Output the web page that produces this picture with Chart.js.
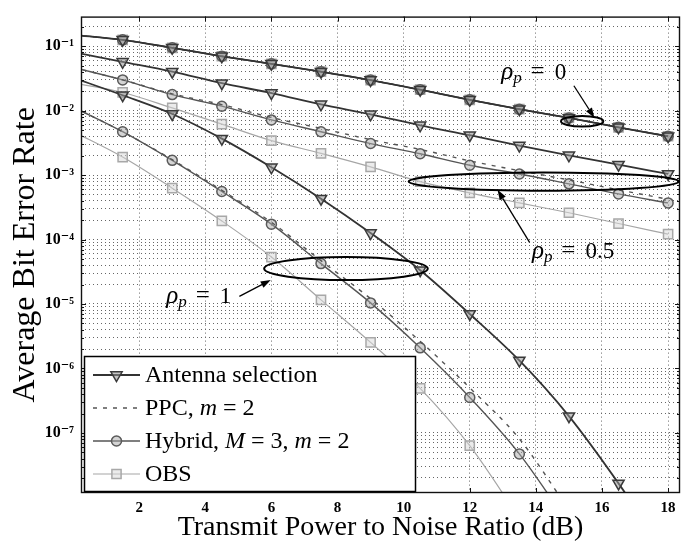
<!DOCTYPE html>
<html><head><meta charset="utf-8">
<script src="https://cdn.jsdelivr.net/npm/chart.js@4/dist/chart.umd.min.js"></script>
<style>html,body{margin:0;padding:0;background:#fff}</style>
</head><body>
<canvas id="c" width="688" height="547"></canvas>
<script>
// ---------------- data ----------------
const snrDb = [0, 1.5, 3, 4.5, 6, 7.5, 9, 10.5, 12, 13.5, 15, 16.5, 18];

// rho_p = 0 : all schemes coincide
const asRho0  = [0.150, 0.125, 0.0942, 0.0696, 0.0531, 0.0401, 0.0297, 0.0211, 0.0147, 0.0105, 0.0077, 0.0055, 0.0040];
const ppcRho0 = [0.150, 0.125, 0.0942, 0.0696, 0.0531, 0.0401, 0.0297, 0.0211, 0.0147, 0.0105, 0.0077, 0.0055, 0.0040];
const hybRho0 = [0.150, 0.125, 0.0942, 0.0696, 0.0531, 0.0401, 0.0297, 0.0211, 0.0147, 0.0105, 0.0077, 0.0055, 0.0040];
const obsRho0 = [0.150, 0.125, 0.0942, 0.0696, 0.0531, 0.0401, 0.0297, 0.0211, 0.0147, 0.0105, 0.0077, 0.0055, 0.0040];

// rho_p = 0.5
const asRho05  = [0.0809, 0.0570, 0.0401, 0.0266, 0.0187, 0.0125, 0.00875, 0.0059, 0.00415, 0.00287, 0.00202, 0.00145, 0.00104];
const ppcRho05 = [0.0468, 0.0299, 0.0182, 0.0124, 0.0078, 0.0053, 0.00355, 0.0025, 0.00166, 0.00117, 0.00084, 0.00059, 0.00042];
const hybRho05 = [0.0468, 0.0299, 0.0177, 0.0117, 0.00716, 0.0047, 0.00308, 0.00214, 0.00142, 0.00104, 0.00073, 0.00051, 0.00037];
const obsRho05 = [0.0269, 0.0191, 0.0110, 0.00616, 0.00342, 0.00217, 0.00134, 0.00079, 0.00053, 0.00037, 0.00026, 0.000177, 0.000121];

// rho_p = 1
const asRho1  = [0.0324, 0.0173, 0.00885, 0.00367, 0.00132, 4.3e-4, 1.26e-4, 3.34e-5, 7.0e-6, 1.33e-6, 1.82e-7, 1.65e-8, 1.2e-9];
const ppcRho1 = [0.01138, 0.0047, 0.00173, 5.8e-4, 1.85e-4, 4.7e-5, 1.21e-5, 2.63e-6, 5.0e-7, 8.1e-8, 6.4e-9, null, null];
const hybRho1 = [0.01138, 0.0047, 0.00169, 5.56e-4, 1.73e-4, 4.23e-5, 1.04e-5, 2.09e-6, 3.55e-7, 4.73e-8, 3.8e-9, null, null];
const obsRho1 = [0.00474, 0.0019, 6.26e-4, 1.94e-4, 5.35e-5, 1.16e-5, 2.54e-6, 4.92e-7, 6.34e-8, 4.76e-9, null, null, null];

const xTickValues = [2, 4, 6, 8, 10, 12, 14, 16, 18];
const xTickLabels = ['2', '4', '6', '8', '10', '12', '14', '16', '18'];
const yTickValues = [1e-7, 1e-6, 1e-5, 1e-4, 1e-3, 1e-2, 1e-1];
const yTickLabels = ['10\u207B\u2077', '10\u207B\u2076', '10\u207B\u2075', '10\u207B\u2074', '10\u207B\u00B3', '10\u207B\u00B2', '10\u207B\u00B9'];

const legendLabels = ['Antenna selection', 'PPC, m = 2', 'Hybrid, M = 3, m = 2', 'OBS'];
const xTitle = 'Transmit Power to Noise Ratio (dB)';
const yTitle = 'Average Bit Error Rate';
const rhoLabels = ['0', '0.5', '1'];

// ---------------- styles ----------------
const SERIF = "'Liberation Serif', 'DejaVu Serif', 'Times New Roman', serif";
const X_MIN = 0.24, X_MAX = 18.36, Y_MIN = 1.17e-8, Y_MAX = 0.287;

const schemeStyle = {
  as:  { borderColor: '#333333', borderWidth: 1.8, pointStyle: 'triangle', pointRotation: 180, r: 6.5,
         pointBorderColor: '#3a3a3a', pointBackgroundColor: 'rgba(150,150,150,0.55)', borderDash: [] },
  ppc: { borderColor: '#555555', borderWidth: 1.4, pointStyle: 'circle', pointRotation: 0, r: 0,
         pointBorderColor: '#555', pointBackgroundColor: 'transparent', borderDash: [4, 6] },
  hyb: { borderColor: '#555555', borderWidth: 1.4, pointStyle: 'circle', pointRotation: 0, r: 5,
         pointBorderColor: '#5a5a5a', pointBackgroundColor: 'rgba(170,170,170,0.5)', borderDash: [] },
  obs: { borderColor: '#a6a6a6', borderWidth: 1.2, pointStyle: 'rect', pointRotation: 0, r: 6.5,
         pointBorderColor: '#a8a8a8', pointBackgroundColor: 'rgba(215,215,215,0.5)', borderDash: [] }
};

function mk(label, values, key, order) {
  const s = schemeStyle[key];
  return {
    label,
    data: snrDb.map((x, i) => ({ x, y: values[i] })),
    borderColor: s.borderColor,
    borderWidth: s.borderWidth,
    borderDash: s.borderDash,
    pointStyle: s.pointStyle,
    pointRotation: s.pointRotation,
    pointRadius: ctx => (ctx.dataIndex === 0 ? 0 : s.r),
    pointHoverRadius: 0,
    pointBorderColor: s.pointBorderColor,
    pointBackgroundColor: s.pointBackgroundColor,
    pointBorderWidth: 1.5,
    cubicInterpolationMode: 'monotone',
    fill: false,
    spanGaps: false,
    order
  };
}

const datasets = [
  mk('AS rho=1', asRho1, 'as', 0),
  mk('PPC rho=1', ppcRho1, 'ppc', 1),
  mk('Hybrid rho=1', hybRho1, 'hyb', 2),
  mk('OBS rho=1', obsRho1, 'obs', 3),
  mk('AS rho=0.5', asRho05, 'as', 0),
  mk('PPC rho=0.5', ppcRho05, 'ppc', 1),
  mk('Hybrid rho=0.5', hybRho05, 'hyb', 2),
  mk('OBS rho=0.5', obsRho05, 'obs', 3),
  mk('AS rho=0', asRho0, 'as', 0),
  mk('PPC rho=0', ppcRho0, 'ppc', 4),
  mk('Hybrid rho=0', hybRho0, 'hyb', 5),
  mk('OBS rho=0', obsRho0, 'obs', 6)
];

// annotation specs in data coordinates
const ellipses = [
  { x0: 14.76, x1: 16.04, y0: 8.24e-3, y1: 5.66e-3 },
  { x0: 10.15, x1: 18.33, y0: 1.10e-3, y1: 5.70e-4 },
  { x0: 5.78,  x1: 10.73, y0: 5.35e-5, y1: 2.35e-5 }
];
const arrows = [
  { fx: 15.15, fy: 0.0243,  tx: 15.77, ty: 7.76e-3 },
  { fx: 13.81, fy: 9.06e-5, tx: 12.84, ty: 5.9e-4 },
  { fx: 5.03,  fy: 1.31e-5, tx: 5.98,  ty: 2.35e-5 }
];
const rhoTextPos = [
  { x: 12.95, y: 0.0401 },
  { x: 13.88, y: 6.75e-5 },
  { x: 2.82,  y: 1.32e-5 }
];

const yGridValues = [];
yTickValues.concat([1e-8]).forEach(d => {
  for (let k = 1; k <= 9; k++) {
    const v = d * k;
    if (v >= Y_MIN && v <= Y_MAX) yGridValues.push(+v.toPrecision(3));
  }
});
yGridValues.sort((a, b) => a - b);

function isDecade(v) { return yTickValues.some(t => Math.abs(Math.log10(t) - Math.log10(v)) < 1e-6); }

function line(ctx, x0, y0, x1, y1) { ctx.beginPath(); ctx.moveTo(x0, y0); ctx.lineTo(x1, y1); ctx.stroke(); }

const overlay = {
  id: 'overlay',
  afterDatasetsDraw(chart) {
    const { ctx, chartArea: a, scales: { x, y } } = chart;
    ctx.save();
    ctx.setLineDash([]);
    // box
    ctx.strokeStyle = '#111';
    ctx.lineWidth = 1.4;
    ctx.strokeRect(a.left + 0.5, a.top + 0.5, a.right - a.left - 1, a.bottom - a.top - 1);
    // inner tick marks
    ctx.lineWidth = 1;
    xTickValues.forEach(v => {
      const px = Math.round(x.getPixelForValue(v)) + 0.5;
      line(ctx, px, a.bottom, px, a.bottom - 5);
      line(ctx, px, a.top, px, a.top + 5);
    });
    yGridValues.forEach(v => {
      const py = Math.round(y.getPixelForValue(v)) + 0.5;
      const len = isDecade(v) ? 5 : 3;
      line(ctx, a.left, py, a.left + len, py);
      line(ctx, a.right, py, a.right - len, py);
    });

    // ellipses
    ctx.strokeStyle = '#000';
    ctx.lineWidth = 2;
    ellipses.forEach(e => {
      const px0 = x.getPixelForValue(e.x0), px1 = x.getPixelForValue(e.x1);
      const py0 = y.getPixelForValue(e.y0), py1 = y.getPixelForValue(e.y1);
      ctx.beginPath();
      ctx.ellipse((px0 + px1) / 2, (py0 + py1) / 2, Math.abs(px1 - px0) / 2, Math.abs(py1 - py0) / 2, 0, 0, Math.PI * 2);
      ctx.stroke();
    });
    // arrows
    ctx.lineWidth = 1.3;
    ctx.fillStyle = '#000';
    arrows.forEach(r => {
      const x0 = x.getPixelForValue(r.fx), y0 = y.getPixelForValue(r.fy);
      const x1 = x.getPixelForValue(r.tx), y1 = y.getPixelForValue(r.ty);
      const ang = Math.atan2(y1 - y0, x1 - x0);
      const hl = 10, hw = 3.5;
      const bx = x1 - hl * Math.cos(ang), by = y1 - hl * Math.sin(ang);
      line(ctx, x0, y0, bx, by);
      ctx.beginPath();
      ctx.moveTo(x1, y1);
      ctx.lineTo(bx + hw * Math.sin(ang), by - hw * Math.cos(ang));
      ctx.lineTo(bx - hw * Math.sin(ang), by + hw * Math.cos(ang));
      ctx.closePath();
      ctx.fill();
    });
    // rho labels
    ctx.fillStyle = '#000';
    ctx.textBaseline = 'alphabetic';
    ctx.textAlign = 'left';
    rhoTextPos.forEach((p, i) => {
      const px = x.getPixelForValue(p.x), py = y.getPixelForValue(p.y) + 7;
      ctx.font = 'italic 25px ' + SERIF;
      ctx.fillText('\u03C1', px, py);
      let w = ctx.measureText('\u03C1').width;
      ctx.font = 'italic 17px ' + SERIF;
      ctx.fillText('p', px + w, py + 4);
      w += ctx.measureText('p').width;
      ctx.font = '25px ' + SERIF;
      const eqW = ctx.measureText('=').width;
      ctx.fillText('=', px + w + 6 + (20 - eqW) / 2, py);
      ctx.font = '23px ' + SERIF;
      ctx.fillText(rhoLabels[i], px + w + 33, py);
    });

    // legend
    const keys = ['as', 'ppc', 'hyb', 'obs'];
    const lx0 = a.left + 3, ly1 = a.bottom - 2, lx1 = a.left + 334, ly0 = ly1 - 135;
    ctx.fillStyle = '#fff';
    ctx.fillRect(lx0, ly0, lx1 - lx0, ly1 - ly0);
    ctx.strokeStyle = '#000';
    ctx.lineWidth = 1.5;
    ctx.strokeRect(lx0 + 0.5, ly0 + 0.5, lx1 - lx0, ly1 - ly0);
    keys.forEach((k, i) => {
      const s = schemeStyle[k];
      const ry = ly0 + 19 + i * 33;
      ctx.strokeStyle = s.borderColor;
      ctx.lineWidth = s.borderWidth;
      ctx.setLineDash(s.borderDash);
      line(ctx, lx0 + 9, ry, lx0 + 56, ry);
      ctx.setLineDash([]);
      if (s.r > 0) {
        ctx.fillStyle = s.pointBackgroundColor;
        ctx.strokeStyle = s.pointBorderColor;
        ctx.lineWidth = 1.5;
        Chart.helpers.drawPoint(ctx, { pointStyle: s.pointStyle, rotation: s.pointRotation, radius: s.r, borderWidth: 1.5 }, lx0 + 32.5, ry);
      }
      // text with italic math letters
      ctx.fillStyle = '#000';
      ctx.textBaseline = 'middle';
      let tx = lx0 + 61;
      legendLabels[i].split(/(\b[mM]\b)/).forEach(seg => {
        if (!seg) return;
        ctx.font = (/^[mM]$/.test(seg) ? 'italic ' : '') + '24px ' + SERIF;
        ctx.fillText(seg, tx, ry + 1);
        tx += ctx.measureText(seg).width;
      });
    });
    ctx.restore();
  }
};

new Chart(document.getElementById('c'), {
  type: 'line',
  data: { datasets },
  options: {
    responsive: false,
    animation: false,
    devicePixelRatio: 1,
    layout: { padding: { top: 9, right: 5, left: 0, bottom: 0 } },
    plugins: { legend: { display: false }, tooltip: { enabled: false } },
    elements: { line: { tension: 0 } },
    scales: {
      x: {
        type: 'linear',
        min: X_MIN, max: X_MAX,
        afterBuildTicks: s => { s.ticks = xTickValues.map(v => ({ value: v })); },
        afterFit: s => { s.height = 54; },
        grid: { color: '#666', lineWidth: 1, drawTicks: false },
        border: { display: false, dash: [1, 3] },
        ticks: {
          autoSkip: false, maxRotation: 0, padding: 6, color: '#000',
          font: { family: SERIF, size: 15, weight: 'bold' },
          callback: v => { const i = xTickValues.indexOf(v); return i >= 0 ? xTickLabels[i] : ''; }
        },
        title: { display: true, text: xTitle, color: '#000', font: { family: SERIF, size: 28 }, padding: { top: 0, bottom: 3 } }
      },
      y: {
        type: 'logarithmic',
        min: Y_MIN, max: Y_MAX,
        afterBuildTicks: s => { s.ticks = yGridValues.map(v => ({ value: v })); },
        afterFit: s => { s.width = 81; },
        grid: { color: '#666', lineWidth: 1, drawTicks: false },
        border: { display: false, dash: [1, 3] },
        ticks: {
          autoSkip: false, padding: 7, color: '#000',
          font: { family: SERIF, size: 16, weight: 'bold' },
          callback: v => {
            const i = yTickValues.findIndex(t => Math.abs(Math.log10(t) - Math.log10(v)) < 1e-6);
            return i >= 0 ? yTickLabels[i] : '';
          }
        },
        title: { display: true, text: yTitle, color: '#000', font: { family: SERIF, size: 32 }, padding: { top: 6, bottom: 0 } }
      }
    }
  },
  plugins: [overlay]
});
</script>
</body></html>
